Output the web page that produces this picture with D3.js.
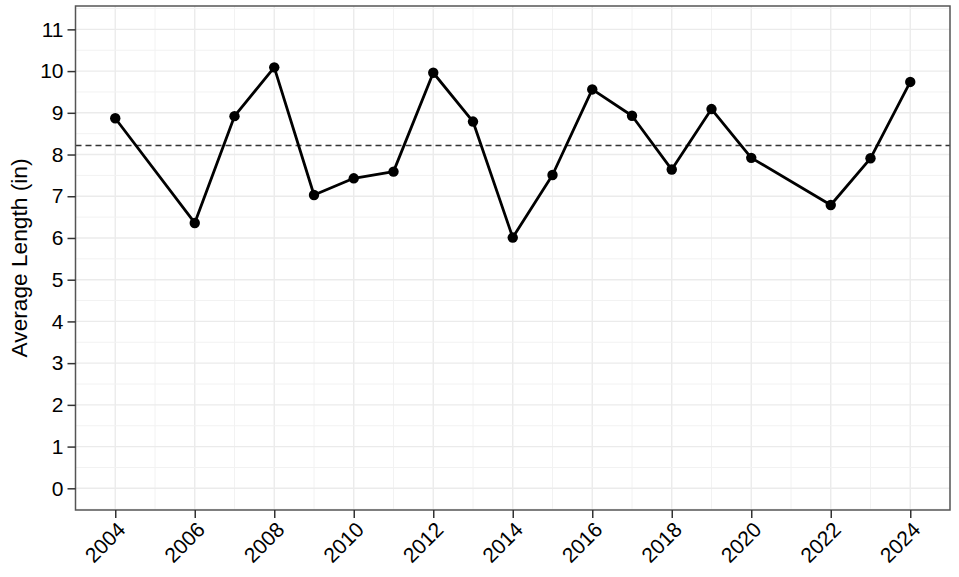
<!DOCTYPE html>
<html>
<head>
<meta charset="utf-8">
<script src="https://cdn.jsdelivr.net/npm/d3@7"></script>
<style>
  body { margin: 0; background: #fff; }
  text { font-family: "Liberation Sans", Arial, sans-serif; }
</style>
</head>
<body>
<svg id="chart"></svg>
<script>
// values
const years = [2004, 2006, 2007, 2008, 2009, 2010, 2011, 2012, 2013, 2014, 2015, 2016, 2017, 2018, 2019, 2020, 2022, 2023, 2024];
const avgLength = [8.87, 6.36, 8.92, 10.09, 7.03, 7.43, 7.59, 9.96, 8.79, 6.01, 7.51, 9.56, 8.93, 7.64, 9.09, 7.92, 6.79, 7.91, 9.74];
const xTicks = [2004, 2006, 2008, 2010, 2012, 2014, 2016, 2018, 2020, 2022, 2024];
const yTicks = [0, 1, 2, 3, 4, 5, 6, 7, 8, 9, 10, 11];

const width = 959, height = 577;
const margin = { top: 6, right: 9, bottom: 67, left: 75.5 };

const svg = d3.select('#chart').attr('width', width).attr('height', height);

const x = d3.scaleLinear().domain([2003, 2025]).range([margin.left, width - margin.right]);
const y = d3.scaleLinear().domain([-0.52, 11.56]).range([height - margin.bottom, margin.top]);

const data = years.map((yr, i) => ({ year: yr, value: avgLength[i] }));
const mean = d3.mean(avgLength);

// grid
const grid = svg.append('g');
grid.selectAll('.xminor').data(d3.range(2003, 2026)).enter().append('line')
    .attr('x1', d => x(d)).attr('x2', d => x(d))
    .attr('y1', margin.top).attr('y2', height - margin.bottom)
    .attr('stroke', d => d % 2 === 0 ? '#ebebeb' : '#f2f2f2')
    .attr('stroke-width', d => d % 2 === 0 ? 1.4 : 1);
grid.selectAll('.yminor').data(d3.range(-0.5, 11.6, 0.5)).enter().append('line')
    .attr('x1', margin.left).attr('x2', width - margin.right)
    .attr('y1', d => y(d)).attr('y2', d => y(d))
    .attr('stroke', d => Number.isInteger(d) ? '#ebebeb' : '#f2f2f2')
    .attr('stroke-width', d => Number.isInteger(d) ? 1.4 : 1);

// mean line
svg.append('line')
    .attr('x1', margin.left).attr('x2', width - margin.right)
    .attr('y1', y(mean)).attr('y2', y(mean))
    .attr('stroke', '#333').attr('stroke-width', 1.6)
    .attr('stroke-dasharray', '6,4');

// line + points
let line = d3.line().x(d => x(d.year)).y(d => y(d.value));
svg.append('path').datum(data)
    .attr('d', line)
    .attr('fill', 'none').attr('stroke', '#000').attr('stroke-width', 2.8)
    .attr('stroke-linejoin', 'round');
svg.selectAll('.pt').data(data).enter().append('circle')
    .attr('cx', d => x(d.year)).attr('cy', d => y(d.value))
    .attr('r', 5.2).attr('fill', '#000');

// frame
svg.append('rect')
    .attr('x', margin.left).attr('y', margin.top)
    .attr('width', width - margin.left - margin.right)
    .attr('height', height - margin.top - margin.bottom)
    .attr('fill', 'none').attr('stroke', '#555').attr('stroke-width', 1.5);

// axes
const yAxis = svg.append('g')
    .attr('transform', 'translate(' + margin.left + ',0)')
    .call(d3.axisLeft(y).tickValues(yTicks).tickSize(8).tickPadding(4));
yAxis.select('.domain').remove();
yAxis.selectAll('line').attr('stroke', '#333').attr('stroke-width', 1.5);
yAxis.selectAll('text').attr('fill', '#000').style('font-size', '21px');

const xAxis = svg.append('g')
    .attr('transform', 'translate(0,' + (height - margin.bottom) + ')')
    .call(d3.axisBottom(x).tickValues(xTicks).tickFormat(d3.format('d')).tickSize(8));
xAxis.select('.domain').remove();
xAxis.selectAll('line').attr('stroke', '#333').attr('stroke-width', 1.5);
xAxis.selectAll('text')
    .attr('fill', '#000').style('font-size', '21px')
    .attr('text-anchor', 'end')
    .attr('dy', null).attr('y', 0)
    .attr('transform', 'translate(11,21) rotate(-45)');

// y label
svg.append('text')
    .attr('transform', 'translate(27,' + ((margin.top + height - margin.bottom) / 2) + ') rotate(-90)')
    .attr('text-anchor', 'middle')
    .style('font-size', '22.7px').attr('fill', '#000')
    .text('Average Length (in)');
</script>
</body>
</html>
